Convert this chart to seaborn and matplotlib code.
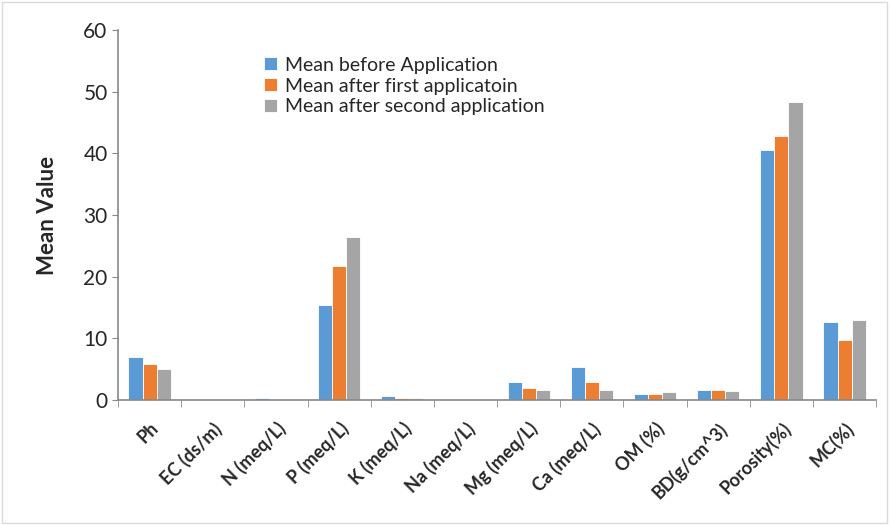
import pandas as pd
import matplotlib
matplotlib.use("Agg")
import matplotlib.pyplot as plt
import seaborn as sns
from matplotlib.patches import Rectangle

# data
params = ['Ph', 'EC (ds/m)', 'N (meq/L)', 'P (meq/L)', 'K (meq/L)', 'Na (meq/L)',
          'Mg (meq/L)', 'Ca (meq/L)', 'OM (%)', 'BD(g/cm^3)', 'Porosity(%)', 'MC(%)']
before = [7.0, 0.05, 0.3, 15.4, 0.6, 0.05, 3.0, 5.3, 0.9, 1.6, 40.5, 12.6]
first = [5.9, 0.03, 0.05, 21.8, 0.35, 0.15, 1.9, 2.9, 1.0, 1.55, 42.8, 9.7]
second = [5.1, 0.03, 0.1, 26.4, 0.35, 0.15, 1.55, 1.6, 1.3, 1.45, 48.3, 12.9]
series = ['Mean before Application', 'Mean after first applicatoin', 'Mean after second application']
colors = ['#5b9bd5', '#ed7d31', '#a5a5a5']

df = pd.DataFrame({'param': params * 3,
                   'value': before + first + second,
                   'series': [series[0]] * 12 + [series[1]] * 12 + [series[2]] * 12})

sns.set_style('white')
plt.rcParams['font.family'] = ['Lato', 'DejaVu Sans']

fig = plt.figure(figsize=(8.91, 5.25), dpi=100)
ax = fig.add_axes([0.1324, 0.238, 0.851, 0.705])

sns.barplot(data=df, x='param', y='value', hue='series', palette=colors, saturation=1,
            width=0.67, edgecolor='white', linewidth=0.6, ax=ax, errorbar=None)

ax.set_ylim(0, 60)
ax.set_yticks(range(0, 61, 10))
ax.set_xlim(-0.5, 11.5)
ax.set_xlabel('')
ax.set_ylabel('Mean Value', fontsize=16, fontweight='bold', labelpad=18)
ax.tick_params(axis='y', labelsize=15, length=4, color='#888888', direction='out', left=True)
ax.set_xticks(range(12))
ax.set_xticklabels(params, rotation=45, ha='right', rotation_mode='anchor',
                   fontsize=13, fontweight='bold')
ax.tick_params(axis='x', length=0, pad=14)
ax.set_xticks([i - 0.5 for i in range(13)], minor=True)
ax.tick_params(axis='x', which='minor', length=5, color='#888888', direction='out', bottom=True)

for s in ['top', 'right']:
    ax.spines[s].set_visible(False)
for s in ['left', 'bottom']:
    ax.spines[s].set_color('#888888')
    ax.spines[s].set_linewidth(1.2)

leg = ax.legend(loc='upper left', bbox_to_anchor=(0.17, 0.975), frameon=False,
                fontsize=14, handlelength=0.65, handleheight=0.65, handletextpad=0.4,
                labelspacing=0.2)

fig.patches.append(Rectangle((0.002, 0.004), 0.994, 0.992, transform=fig.transFigure,
                             fill=False, edgecolor='#d9d9d9', linewidth=1))

fig.savefig('out.png', dpi=100)
